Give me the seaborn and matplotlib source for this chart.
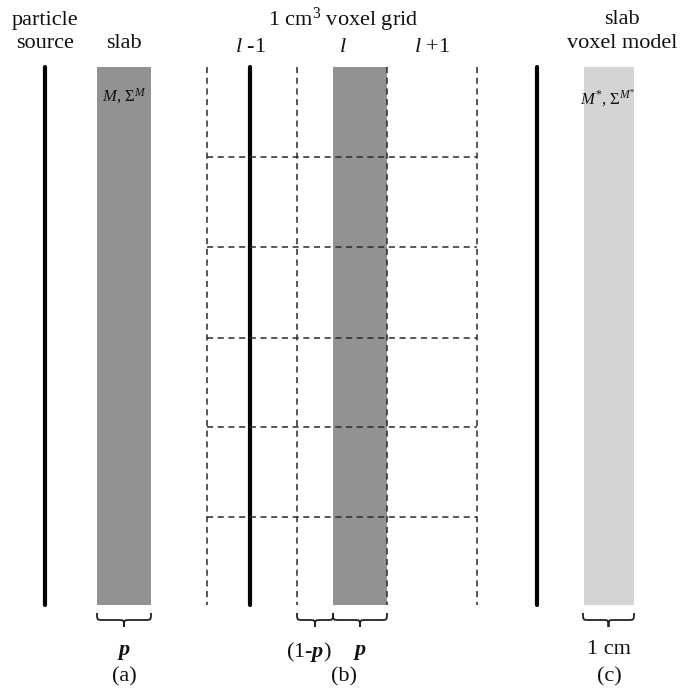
import matplotlib
matplotlib.use("Agg")
import matplotlib.pyplot as plt
from matplotlib.path import Path
from matplotlib.patches import PathPatch
import seaborn as sns
import pandas as pd

# ---- diagram data (pixel coordinates of the reference) ----
top_y, bottom_y = 67, 605
source_lines_x = [45, 250, 537]            # thick solid lines
slab_dark = [(97, 151), (333, 387)]        # dark gray slabs
slab_light = [(584, 634)]                  # light gray slab
grid_cols_x = [207, 297, 387, 477]         # dashed vertical grid lines
grid_rows_y = [157, 247, 338, 427, 517]    # dashed horizontal grid lines
braces = [(97, 151), (297, 333), (333, 387), (583, 634)]

sns.set_theme(style="white")
plt.rcParams["font.family"] = ["Liberation Serif", "DejaVu Serif"]
plt.rcParams["mathtext.fontset"] = "custom"
plt.rcParams["mathtext.rm"] = "Liberation Serif"
plt.rcParams["mathtext.it"] = "Liberation Serif:italic"
plt.rcParams["mathtext.bf"] = "Liberation Serif:italic:bold"

fig = plt.figure(figsize=(6.81, 6.89), dpi=100)
ax = fig.add_axes([0, 0, 1, 1])

# slabs
for x0, x1 in slab_dark:
    ax.fill_between([x0, x1], top_y, bottom_y, color="#929292", lw=0, zorder=1)
for x0, x1 in slab_light:
    ax.fill_between([x0, x1], top_y, bottom_y, color="#d4d4d4", lw=0, zorder=1)

# thick solid lines via seaborn
df = pd.DataFrame({
    "x": [v for v in source_lines_x for _ in range(2)],
    "y": [top_y, bottom_y] * len(source_lines_x),
    "line": [i for i in range(len(source_lines_x)) for _ in range(2)],
})
sns.lineplot(data=df, x="x", y="y", units="line", estimator=None, sort=False,
             color="black", lw=3, ax=ax, zorder=3)
ax.set_xlim(0, 681)
ax.set_ylim(689, 0)
ax.axis("off")

# dashed grid
dash = (0, (4, 3))
for gx in grid_cols_x:
    ax.plot([gx, gx], [top_y, bottom_y], color="#2a2a2a", lw=1.1, ls=dash, zorder=4)
for gy in grid_rows_y:
    ax.plot([grid_cols_x[0], grid_cols_x[-1]], [gy, gy], color="#2a2a2a", lw=1.1, ls=dash, zorder=4)

# braces
def brace(x0, x1, y=613, h=14):
    mid = (x0 + x1) / 2
    yh = y + h * 0.5
    yt = y + h
    r = min(6, (x1 - x0) / 6)
    verts = [
        (x0, y), (x0, yh), (x0, yh), (x0 + r, yh),
        (mid - r, yh),
        (mid, yh), (mid, yh), (mid, yt),
        (mid, yh), (mid, yh), (mid + r, yh),
        (x1 - r, yh),
        (x1, yh), (x1, yh), (x1, y),
    ]
    codes = [Path.MOVETO, Path.CURVE4, Path.CURVE4, Path.CURVE4,
             Path.LINETO,
             Path.CURVE4, Path.CURVE4, Path.CURVE4,
             Path.CURVE4, Path.CURVE4, Path.CURVE4,
             Path.LINETO,
             Path.CURVE4, Path.CURVE4, Path.CURVE4]
    ax.add_patch(PathPatch(Path(verts, codes), fill=False, lw=1.3, ec="#222222"))

for b in braces:
    brace(*b)

fs = 16
tk = dict(ha="center", va="center", color="#111111", fontsize=fs)
ax.text(45, 20, "particle", **tk)
ax.text(45, 44, "source", **tk)
ax.text(124, 44, "slab", **tk)
ax.text(343, 20, "1 cm$^3$ voxel grid", **tk)
ax.text(250, 48, "$l$ -1", **tk)
ax.text(343, 48, "$l$", **tk)
ax.text(432, 48, "$l$ +1", **tk)
ax.text(622, 20, "slab", **tk)
ax.text(622, 44, "voxel model", **tk)
ax.text(124, 96, "$M$, $\\Sigma^{M}$", ha="center", va="center", fontsize=12, color="#111111")
ax.text(608, 98, "$M^{*}$, $\\Sigma^{M^{*}}$", ha="center", va="center", fontsize=12, color="#111111")

ax.text(124, 652, "$\\mathbf{p}$", **tk)
ax.text(309, 652, "(1-$\\mathbf{p}$)", **tk)
ax.text(360, 652, "$\\mathbf{p}$", **tk)
ax.text(609, 650, "1 cm", **tk)
ax.text(124, 677, "(a)", **tk)
ax.text(344, 677, "(b)", **tk)
ax.text(609, 677, "(c)", **tk)

fig.savefig("out.png", dpi=100, facecolor="white")
